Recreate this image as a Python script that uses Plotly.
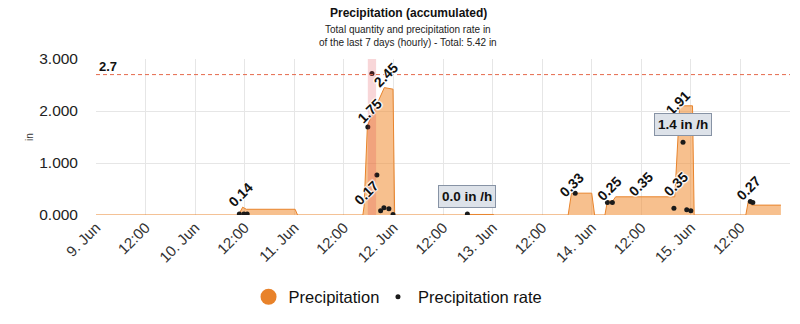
import plotly.graph_objects as go
import pandas as pd

# ---------------- data ----------------
precip_times = [
    "2024-06-09 00:00", "2024-06-10 10:30", "2024-06-10 11:30", "2024-06-10 12:24",
    "2024-06-11 00:12", "2024-06-11 00:48", "2024-06-11 16:36", "2024-06-11 16:54",
    "2024-06-11 17:42", "2024-06-11 21:48", "2024-06-11 23:54", "2024-06-12 00:18",
    "2024-06-12 17:54", "2024-06-12 18:00", "2024-06-13 00:18", "2024-06-13 00:24",
    "2024-06-13 18:18", "2024-06-13 19:06", "2024-06-14 00:00", "2024-06-14 00:42",
    "2024-06-14 03:12", "2024-06-14 03:48", "2024-06-14 05:06", "2024-06-14 05:48",
    "2024-06-14 20:06", "2024-06-14 21:18", "2024-06-15 00:24", "2024-06-15 00:48",
    "2024-06-15 13:18", "2024-06-15 13:54", "2024-06-15 14:42", "2024-06-15 21:48",
]
precip_values = [
    0, 0, 0.15, 0.11,
    0.11, 0, 0, 0.17,
    1.72, 2.45, 2.42, 0,
    0, 0.01, 0.01, 0,
    0, 0.42, 0.42, 0,
    0, 0.27, 0.27, 0.35,
    0.35, 2.10, 2.10, 0,
    0, 0.26, 0.19, 0.19,
]

rate_times = [
    "2024-06-10 10:42", "2024-06-10 11:48", "2024-06-10 12:36",
    "2024-06-11 17:48", "2024-06-11 18:48", "2024-06-11 20:00", "2024-06-11 20:54",
    "2024-06-11 21:42", "2024-06-11 22:54", "2024-06-11 23:54",
    "2024-06-12 17:54", "2024-06-13 20:00",
    "2024-06-14 03:48", "2024-06-14 05:00", "2024-06-14 19:54", "2024-06-14 22:06",
    "2024-06-14 23:00", "2024-06-15 00:00", "2024-06-15 14:24", "2024-06-15 15:00",
]
rate_values = [
    0.02, 0.02, 0.02,
    1.69, 2.72, 0.77, 0.08,
    0.14, 0.12, 0.01,
    0.02, 0.42,
    0.24, 0.24, 0.13, 1.40,
    0.10, 0.08, 0.26, 0.24,
]

label_times = [
    "2024-06-10 10:54", "2024-06-11 17:24", "2024-06-11 18:12", "2024-06-11 22:06",
    "2024-06-13 19:06", "2024-06-14 04:12", "2024-06-14 11:54", "2024-06-14 20:24",
    "2024-06-14 20:48", "2024-06-15 14:00",
]
label_values = [0.14, 0.17, 1.75, 2.45, 0.33, 0.25, 0.35, 0.35, 1.91, 0.27]
label_texts = ["0.14", "0.17", "1.75", "2.45", "0.33", "0.25", "0.35", "0.35", "1.91", "0.27"]

box_times = ["2024-06-12 17:54", "2024-06-14 22:06"]
box_values = [0.02, 1.40]
box_texts = ["0.0 in /h", "1.4 in /h"]

max_rate = 2.7
band_start = "2024-06-11 17:48"
band_end = "2024-06-11 19:48"

x_start = "2024-06-09 00:00"
x_end = "2024-06-16 00:00"
tick_times = pd.date_range("2024-06-09 00:00", "2024-06-15 12:00", freq="12h")
tick_labels = [f"{t.day}. Jun" if t.hour == 0 else "12:00" for t in tick_times]

y_ticks = [0, 1, 2, 3]

title = "Precipitation (accumulated)"
subtitle = "Total quantity and precipitation rate in<br>of the last 7 days (hourly) - Total: 5.42 in"

# ---------------- figure ----------------
FONT = "Liberation Sans, Arial, Helvetica, sans-serif"
ORANGE_LINE = "#e8842c"
ORANGE_FILL = "rgba(240,140,50,0.55)"
ORANGE_LEG = "#e8822a"

fig = go.Figure()

fig.add_trace(go.Scatter(
    x=pd.to_datetime(precip_times), y=precip_values,
    mode="lines", fill="tozeroy",
    line=dict(color=ORANGE_LINE, width=1),
    fillcolor=ORANGE_FILL,
    name="Precipitation", showlegend=False, hoverinfo="skip",
))
# legend proxy for the area series (circle symbol)
fig.add_trace(go.Scatter(
    x=[None], y=[None], mode="markers",
    marker=dict(color=ORANGE_LEG, size=16),
    name="Precipitation", showlegend=True, legend="legend",
))
fig.add_trace(go.Scatter(
    x=pd.to_datetime(rate_times), y=rate_values,
    mode="markers",
    marker=dict(color="#1a1a1a", size=5),
    name="Precipitation rate", showlegend=True, legend="legend2",
))

# max-rate plot band and plot line
fig.add_shape(type="rect", xref="x", yref="paper",
              x0=pd.Timestamp(band_start), x1=pd.Timestamp(band_end), y0=0, y1=1,
              fillcolor="rgba(220,50,60,0.2)", line=dict(width=0), layer="above")
fig.add_shape(type="line", xref="paper", yref="y", x0=0, x1=1, y0=max_rate, y1=max_rate,
              line=dict(color="#e5694c", width=1, dash="4px,3px"), layer="above")
fig.add_annotation(xref="paper", yref="y", x=0, y=max_rate, xanchor="left", yanchor="middle",
                   xshift=1, yshift=8, showarrow=False,
                   text=f"<b>{max_rate}</b>", font=dict(family=FONT, size=13, color="#111"))

outline = "1px 1px 1px #fff, -1px -1px 1px #fff, 1px -1px 1px #fff, -1px 1px 1px #fff"
for t, v, s in zip(label_times, label_values, label_texts):
    fig.add_annotation(x=pd.Timestamp(t), y=v, xref="x", yref="y",
                       text=f"<b>{s}</b>", showarrow=False, textangle=-45,
                       xanchor="center", yanchor="middle", yshift=13,
                       font=dict(family=FONT, size=14, color="#111", shadow=outline))

for t, v, s in zip(box_times, box_values, box_texts):
    fig.add_annotation(x=pd.Timestamp(t), y=v, xref="x", yref="y",
                       text=f"<b>{s}</b>", showarrow=False,
                       xanchor="center", yanchor="bottom", yshift=6,
                       bgcolor="#dde2e9", bordercolor="#8793a5", borderwidth=1, borderpad=3,
                       font=dict(family=FONT, size=13.5, color="#111"))

# titles
fig.add_annotation(xref="paper", yref="paper", x=0.4496, y=1.293, xanchor="center", yanchor="middle",
                   showarrow=False, text=f"<b>{title}</b>",
                   font=dict(family=FONT, size=12, color="#111"))
fig.add_annotation(xref="paper", yref="paper", x=0.4496, y=1.147, xanchor="center", yanchor="middle",
                   showarrow=False, text=subtitle,
                   font=dict(family=FONT, size=10, color="#222"))
fig.add_annotation(xref="paper", yref="paper", x=-0.0965, y=0.5, xanchor="center", yanchor="middle",
                   showarrow=False, text="in", textangle=-90,
                   font=dict(family=FONT, size=10, color="#333"))

leg_common = dict(orientation="h", yanchor="middle", y=-0.526, xanchor="left",
                  font=dict(family=FONT, size=16.5, color="#111"), itemsizing="trace",
                  bgcolor="rgba(0,0,0,0)", borderwidth=0)
fig.update_layout(
    width=800, height=324,
    margin=dict(l=96, r=10, t=59, b=109),
    paper_bgcolor="white", plot_bgcolor="white",
    font=dict(family=FONT, color="#333"),
    showlegend=True,
    legend=dict(x=0.2198, **leg_common),
    legend2=dict(x=0.4063, **leg_common),
)
fig.update_xaxes(
    type="date", range=[pd.Timestamp(x_start), pd.Timestamp(x_end)],
    tickvals=tick_times, ticktext=tick_labels, tickangle=-45,
    tickfont=dict(family=FONT, size=15, color="#333"),
    showgrid=True, gridcolor="#e6e6e6", gridwidth=1,
    zeroline=False, showline=False, ticks="",
)
fig.update_yaxes(
    range=[0, 3], tickvals=y_ticks, tickformat=".3f",
    tickfont=dict(family=FONT, size=15.5, color="#222"),
    showgrid=True, gridcolor="#e6e6e6", gridwidth=1,
    zeroline=False, showline=False, ticks="", ticklabelstandoff=17,
)

fig.write_html("out.html")
